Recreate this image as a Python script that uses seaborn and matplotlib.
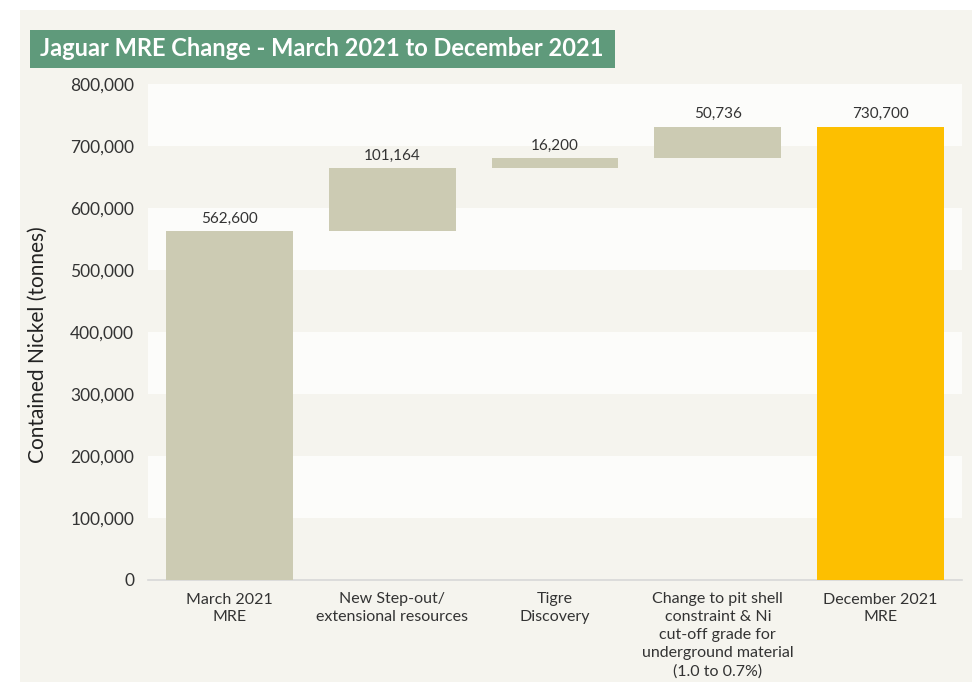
import matplotlib
matplotlib.use("Agg")
import matplotlib.pyplot as plt
from matplotlib.patches import Rectangle
from matplotlib.ticker import FuncFormatter
import seaborn as sns
import pandas as pd

# waterfall steps, tonnes of contained nickel
categories = [
    "March 2021\nMRE",
    "New Step-out/\nextensional resources",
    "Tigre\nDiscovery",
    "Change to pit shell\nconstraint & Ni\ncut-off grade for\nunderground material\n(1.0 to 0.7%)",
    "December 2021\nMRE",
]
changes = [562600, 101164, 16200, 50736]
total = 730700
labels = ["562,600", "101,164", "16,200", "50,736", "730,700"]

# bases and heights for each floating bar
bases = [0]
for c in changes[:-1]:
    bases.append(bases[-1] + c)
bases.append(0)
heights = changes + [total]

df = pd.DataFrame({"category": categories, "base": bases, "height": heights})

bar_grey = "#cccbb3"
bar_gold = "#fdbf00"
colors = [bar_grey] * 4 + [bar_gold]
cream = "#f5f4ee"
band_white = "#fcfcfa"
text_col = "#333333"

sns.set_theme(style="white")
plt.rcParams["font.family"] = ["Lato", "DejaVu Sans"]

fig = plt.figure(figsize=(9.72, 6.82), dpi=100)
fig.patch.set_facecolor("white")
# cream panel behind everything
fig.patches.append(Rectangle((20 / 972, 0), 1, 1 - 10 / 682, transform=fig.transFigure,
                             facecolor=cream, edgecolor="none", zorder=-10))

ax = fig.add_axes([148 / 972, 1 - 580 / 682, (962 - 148) / 972, (580 - 84) / 682])
ax.set_facecolor(cream)

sns.barplot(data=df, x="category", y="height", hue="category", palette=colors,
            legend=False, width=0.78, saturation=1, ax=ax, zorder=3)
for patch, b in zip(ax.patches, df["base"]):
    patch.set_y(b)
    patch.set_edgecolor("none")

ax.set_ylim(0, 800000)
ax.set_xlim(-0.5, 4.5)

# alternating background bands
for lo in range(100000, 800000, 200000):
    ax.axhspan(lo, lo + 100000, color=band_white, zorder=0, lw=0)

for i, (b, h, lab) in enumerate(zip(df["base"], df["height"], labels)):
    ax.text(i, b + h + 9000, lab, ha="center", va="bottom", fontsize=11, color=text_col)

ax.yaxis.set_major_formatter(FuncFormatter(lambda v, p: f"{int(v):,}"))
ax.set_yticks(range(0, 800001, 100000))
ax.tick_params(axis="y", length=0, labelsize=12.5, labelcolor=text_col, pad=10)
ax.tick_params(axis="x", length=0, labelsize=11.5, labelcolor=text_col, pad=9)
for t in ax.get_xticklabels():
    t.set_linespacing(1.35)
ax.set_xlabel("")
ax.set_ylabel("")
for s in ["top", "right", "left"]:
    ax.spines[s].set_visible(False)
ax.spines["bottom"].set_color("#d8d8d8")
ax.spines["bottom"].set_linewidth(1.2)

fig.text(38 / 972, 1 - 345 / 682, "Contained Nickel (tonnes)", rotation=90,
         ha="center", va="center", fontsize=15, color="#222222")

# title banner
fig.patches.append(Rectangle((30 / 972, 1 - 68 / 682), 585 / 972, 38 / 682,
                             transform=fig.transFigure, facecolor="#5f9a7b",
                             edgecolor="none", zorder=5))
fig.text(40 / 972, 1 - 49 / 682, "Jaguar MRE Change - March 2021 to December 2021",
         ha="left", va="center", fontsize=17, color="white", fontweight="bold", zorder=6)

fig.savefig("out.png", dpi=100)
